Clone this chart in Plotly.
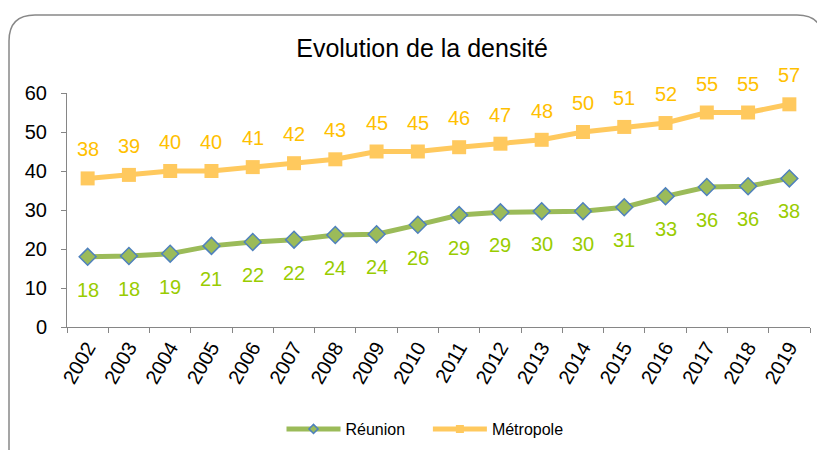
import plotly.graph_objects as go

years = [str(y) for y in range(2002, 2020)]
reunion = [18.0, 18.2, 18.8, 20.8, 21.8, 22.4, 23.6, 23.8, 26.2, 28.7, 29.4, 29.7, 29.7, 30.7, 33.5, 35.9, 36.1, 38.1]
reunion_labels = ["18", "18", "19", "21", "22", "22", "24", "24", "26", "29", "29", "30", "30", "31", "33", "36", "36", "38"]
metropole = [38.1, 39.0, 40.0, 40.0, 41.0, 42.0, 43.0, 45.0, 45.0, 46.1, 47.0, 48.0, 50.0, 51.3, 52.3, 55.0, 55.0, 57.1]
metropole_labels = ["38", "39", "40", "40", "41", "42", "43", "45", "45", "46", "47", "48", "50", "51", "52", "55", "55", "57"]

# page body has an 8px margin: figure sits at (8, 8) in the window
OFF = 8
W, H = 825 - OFF, 450 - OFF
L, R, T, B = 67 - OFF, 825 - 810, 93 - OFF, 450 - 327
pw, ph = W - L - R, H - T - B
FONT = "Liberation Sans, Arial"

def px(x):  # window pixel -> paper
    return (x - OFF - L) / pw

def py(y):
    return (H - B - (y - OFF)) / ph

fig = go.Figure()
fig.add_trace(go.Scatter(
    x=years, y=reunion, name="Réunion", mode="lines+markers", showlegend=False,
    line=dict(color="#9BBB59", width=5),
    marker=dict(symbol="diamond", size=13, color="#9BBB59", line=dict(color="#4F81BD", width=1.5)),
))
fig.add_trace(go.Scatter(
    x=years, y=metropole, name="Métropole", mode="lines+markers", showlegend=False,
    line=dict(color="#FFC95E", width=5),
    marker=dict(symbol="square", size=14, color="#FFC95E"),
))
# legend-only entries with smaller markers
fig.add_trace(go.Scatter(
    x=[None], y=[None], name="Réunion" + "\u00a0" * 4, mode="lines+markers",
    line=dict(color="#9BBB59", width=5),
    marker=dict(symbol="diamond", size=7, color="#9BBB59", line=dict(color="#4F81BD", width=1.5)),
))
fig.add_trace(go.Scatter(
    x=[None], y=[None], name="Métropole", mode="lines+markers",
    line=dict(color="#FFC95E", width=5),
    marker=dict(symbol="square", size=8, color="#FFC95E"),
))

for i, (v, t) in enumerate(zip(reunion, reunion_labels)):
    fig.add_annotation(x=i, y=v, text=t, showarrow=False, yshift=-33,
                       font=dict(color="#99CC00", size=20, family=FONT))
for i, (v, t) in enumerate(zip(metropole, metropole_labels)):
    fig.add_annotation(x=i, y=v, text=t, showarrow=False, yshift=29,
                       font=dict(color="#FFC000", size=20, family=FONT))

# rounded border
x0, x1, y0, y1, r = 9, 823, 15, 470, 26
rx, ry = r / pw, r / ph
path = (f"M {px(x0)},{py(y1)} L {px(x0)},{py(y0)-ry} Q {px(x0)},{py(y0)} {px(x0)+rx},{py(y0)} "
        f"L {px(x1)-rx},{py(y0)} Q {px(x1)},{py(y0)} {px(x1)},{py(y0)-ry} L {px(x1)},{py(y1)}")
fig.add_shape(type="path", path=path, xref="paper", yref="paper",
              line=dict(color="#888888", width=1.5), layer="below")

fig.update_layout(
    width=W, height=H,
    margin=dict(l=L, r=R, t=T, b=B, autoexpand=False),
    paper_bgcolor="white", plot_bgcolor="white",
    font=dict(family=FONT, color="black"),
    title=dict(text="Evolution de la densité", x=px(422), xref="paper", xanchor="center",
               y=1 - (48 - OFF) / H, yref="container", yanchor="middle",
               font=dict(size=25, color="black")),
    showlegend=True,
    legend=dict(orientation="h", x=px(425), xanchor="center", y=py(429), yanchor="middle",
                font=dict(size=16, color="black"), itemwidth=54, bgcolor="rgba(0,0,0,0)"),
    xaxis=dict(type="category", showgrid=False, showline=True, linecolor="#868686", linewidth=1,
               ticks="outside", ticklen=5, tickcolor="#868686", tickson="boundaries",
               tickangle=-60, tickfont=dict(size=20, color="black"), range=[-0.5, 17.5],
               automargin=False),
    yaxis=dict(range=[0, 60], dtick=10, showgrid=False, showline=True, linecolor="#868686",
               linewidth=1, ticks="outside", ticklen=5, tickcolor="#868686",
               tickfont=dict(size=20, color="black"), zeroline=False, automargin=False,
               ticklabelstandoff=10),
)

fig.write_html("out.html")
